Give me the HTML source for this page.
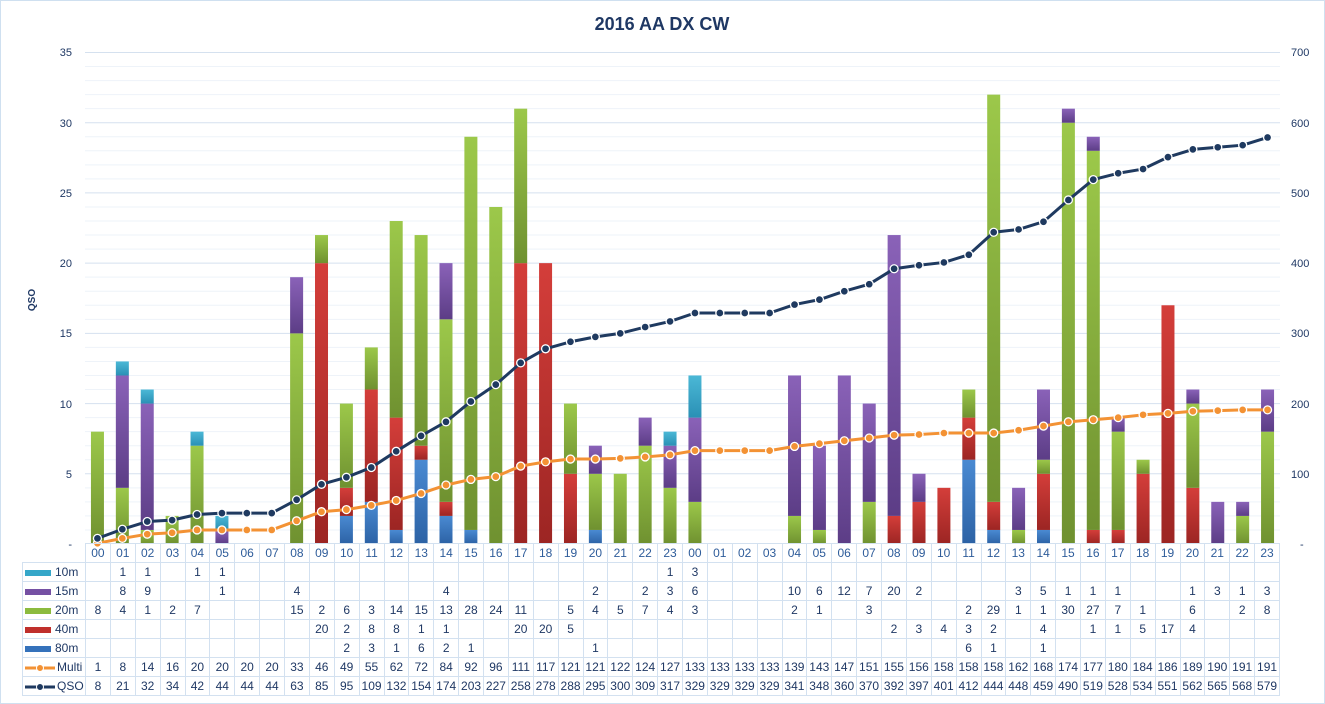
<!DOCTYPE html>
<html><head><meta charset="utf-8"><style>
body{margin:0;background:#fff;}
#wrap{position:relative;width:1325px;height:704px;overflow:hidden;font-family:"Liberation Sans",sans-serif;}
#frame{position:absolute;left:0;top:0;width:1323px;height:702px;border:1px solid #cfe0f0;}
svg{position:absolute;left:0;top:0;}
table{position:absolute;left:22px;top:543px;border-collapse:collapse;table-layout:fixed;width:1258px;font-size:12px;color:#1f3864;}
td{border:1px solid #d3e1f0;height:18px;padding:0;text-align:center;white-space:nowrap;overflow:hidden;}
tr.h td{color:#2e5c9a;height:18px;}
tr.h td.e{border:none;border-right:1px solid #d3e1f0;}
td.l{text-align:left;padding-left:2px;}
.sw{display:inline-block;width:26px;height:6px;vertical-align:middle;margin-right:4px;}
</style></head><body><div id="wrap"><div id="frame"></div>
<svg id="s" width="1325" height="704">
<text x="662" y="30" text-anchor="middle" font-family="Liberation Sans" font-weight="bold" font-size="18" fill="#1f3864">2016 AA DX CW</text>
<text x="35" y="300" text-anchor="middle" font-family="Liberation Sans" font-weight="bold" font-size="10" fill="#1f3864" transform="rotate(-90 35 300)">QSO</text>
<g font-family="Liberation Sans" font-size="11" fill="#1f3864" text-anchor="end">
<text x="72" y="56">35</text><text x="72" y="127">30</text><text x="72" y="197">25</text><text x="72" y="267">20</text><text x="72" y="337">15</text><text x="72" y="408">10</text><text x="72" y="478">5</text><text x="72" y="548">-</text>
</g>
<g font-family="Liberation Sans" font-size="11" fill="#1f3864" text-anchor="start">
<text x="1291" y="56">700</text><text x="1291" y="127">600</text><text x="1291" y="197">500</text><text x="1291" y="267">400</text><text x="1291" y="337">300</text><text x="1291" y="408">200</text><text x="1291" y="478">100</text><text x="1300" y="548">-</text>
</g>
<defs>
<linearGradient id="g10" x1="0" y1="0" x2="0" y2="1"><stop offset="0" stop-color="#4bb8d6"/><stop offset="1" stop-color="#2a90b5"/></linearGradient>
<linearGradient id="g15" x1="0" y1="0" x2="0" y2="1"><stop offset="0" stop-color="#8a62b8"/><stop offset="1" stop-color="#5c3d86"/></linearGradient>
<linearGradient id="g20" x1="0" y1="0" x2="0" y2="1"><stop offset="0" stop-color="#9cc84a"/><stop offset="1" stop-color="#6f9130"/></linearGradient>
<linearGradient id="g40" x1="0" y1="0" x2="0" y2="1"><stop offset="0" stop-color="#d43e3a"/><stop offset="1" stop-color="#9c2523"/></linearGradient>
<linearGradient id="g80" x1="0" y1="0" x2="0" y2="1"><stop offset="0" stop-color="#4a8ad2"/><stop offset="1" stop-color="#2c62a5"/></linearGradient>
</defs>
<g id="grid"></g><g id="bars"></g><g id="lines"></g>
</svg>
<table>
<colgroup><col style="width:63px"><script>for(let i=0;i<48;i++)document.write('<col>');</script></colgroup>
<tr class="h"><td class="e"></td><td>00</td><td>01</td><td>02</td><td>03</td><td>04</td><td>05</td><td>06</td><td>07</td><td>08</td><td>09</td><td>10</td><td>11</td><td>12</td><td>13</td><td>14</td><td>15</td><td>16</td><td>17</td><td>18</td><td>19</td><td>20</td><td>21</td><td>22</td><td>23</td><td>00</td><td>01</td><td>02</td><td>03</td><td>04</td><td>05</td><td>06</td><td>07</td><td>08</td><td>09</td><td>10</td><td>11</td><td>12</td><td>13</td><td>14</td><td>15</td><td>16</td><td>17</td><td>18</td><td>19</td><td>20</td><td>21</td><td>22</td><td>23</td></tr>
<tr><td class="l"><span class="sw" style="background:#35a7c9"></span>10m</td><td></td><td>1</td><td>1</td><td></td><td>1</td><td>1</td><td></td><td></td><td></td><td></td><td></td><td></td><td></td><td></td><td></td><td></td><td></td><td></td><td></td><td></td><td></td><td></td><td></td><td>1</td><td>3</td><td></td><td></td><td></td><td></td><td></td><td></td><td></td><td></td><td></td><td></td><td></td><td></td><td></td><td></td><td></td><td></td><td></td><td></td><td></td><td></td><td></td><td></td><td></td></tr>
<tr><td class="l"><span class="sw" style="background:#7550a3"></span>15m</td><td></td><td>8</td><td>9</td><td></td><td></td><td>1</td><td></td><td></td><td>4</td><td></td><td></td><td></td><td></td><td></td><td>4</td><td></td><td></td><td></td><td></td><td></td><td>2</td><td></td><td>2</td><td>3</td><td>6</td><td></td><td></td><td></td><td>10</td><td>6</td><td>12</td><td>7</td><td>20</td><td>2</td><td></td><td></td><td></td><td>3</td><td>5</td><td>1</td><td>1</td><td>1</td><td></td><td></td><td>1</td><td>3</td><td>1</td><td>3</td></tr>
<tr><td class="l"><span class="sw" style="background:#8cbb3e"></span>20m</td><td>8</td><td>4</td><td>1</td><td>2</td><td>7</td><td></td><td></td><td></td><td>15</td><td>2</td><td>6</td><td>3</td><td>14</td><td>15</td><td>13</td><td>28</td><td>24</td><td>11</td><td></td><td>5</td><td>4</td><td>5</td><td>7</td><td>4</td><td>3</td><td></td><td></td><td></td><td>2</td><td>1</td><td></td><td>3</td><td></td><td></td><td></td><td>2</td><td>29</td><td>1</td><td>1</td><td>30</td><td>27</td><td>7</td><td>1</td><td></td><td>6</td><td></td><td>2</td><td>8</td></tr>
<tr><td class="l"><span class="sw" style="background:#c0302c"></span>40m</td><td></td><td></td><td></td><td></td><td></td><td></td><td></td><td></td><td></td><td>20</td><td>2</td><td>8</td><td>8</td><td>1</td><td>1</td><td></td><td></td><td>20</td><td>20</td><td>5</td><td></td><td></td><td></td><td></td><td></td><td></td><td></td><td></td><td></td><td></td><td></td><td></td><td>2</td><td>3</td><td>4</td><td>3</td><td>2</td><td></td><td>4</td><td></td><td>1</td><td>1</td><td>5</td><td>17</td><td>4</td><td></td><td></td><td></td></tr>
<tr><td class="l"><span class="sw" style="background:#3572bb"></span>80m</td><td></td><td></td><td></td><td></td><td></td><td></td><td></td><td></td><td></td><td></td><td>2</td><td>3</td><td>1</td><td>6</td><td>2</td><td>1</td><td></td><td></td><td></td><td></td><td>1</td><td></td><td></td><td></td><td></td><td></td><td></td><td></td><td></td><td></td><td></td><td></td><td></td><td></td><td></td><td>6</td><td>1</td><td></td><td>1</td><td></td><td></td><td></td><td></td><td></td><td></td><td></td><td></td><td></td></tr>
<tr><td class="l"><svg width="30" height="10" style="position:static;vertical-align:middle;margin-right:2px"><line x1="0" y1="5" x2="30" y2="5" stroke="#f39234" stroke-width="3"/><circle cx="15" cy="5" r="3.5" fill="#f39234" stroke="#fff"/></svg>Multi</td><td>1</td><td>8</td><td>14</td><td>16</td><td>20</td><td>20</td><td>20</td><td>20</td><td>33</td><td>46</td><td>49</td><td>55</td><td>62</td><td>72</td><td>84</td><td>92</td><td>96</td><td>111</td><td>117</td><td>121</td><td>121</td><td>122</td><td>124</td><td>127</td><td>133</td><td>133</td><td>133</td><td>133</td><td>139</td><td>143</td><td>147</td><td>151</td><td>155</td><td>156</td><td>158</td><td>158</td><td>158</td><td>162</td><td>168</td><td>174</td><td>177</td><td>180</td><td>184</td><td>186</td><td>189</td><td>190</td><td>191</td><td>191</td></tr>
<tr><td class="l"><svg width="30" height="10" style="position:static;vertical-align:middle;margin-right:2px"><line x1="0" y1="5" x2="30" y2="5" stroke="#1f3a60" stroke-width="3"/><circle cx="15" cy="5" r="3.5" fill="#1f3a60" stroke="#fff"/></svg>QSO</td><td>8</td><td>21</td><td>32</td><td>34</td><td>42</td><td>44</td><td>44</td><td>44</td><td>63</td><td>85</td><td>95</td><td>109</td><td>132</td><td>154</td><td>174</td><td>203</td><td>227</td><td>258</td><td>278</td><td>288</td><td>295</td><td>300</td><td>309</td><td>317</td><td>329</td><td>329</td><td>329</td><td>329</td><td>341</td><td>348</td><td>360</td><td>370</td><td>392</td><td>397</td><td>401</td><td>412</td><td>444</td><td>448</td><td>459</td><td>490</td><td>519</td><td>528</td><td>534</td><td>551</td><td>562</td><td>565</td><td>568</td><td>579</td></tr>
</table>
</div>
<script>
const NS="http://www.w3.org/2000/svg";
function el(t,a,p){const e=document.createElementNS(NS,t);for(const k in a)e.setAttribute(k,a[k]);p.appendChild(e);return e;}
const L=85,R=1280,Y0=544,U=(544-52.5)/35,W=(R-L)/48;
const grid=document.getElementById('grid');
for(let v=1;v<=35;v++){const y=Y0-v*U;el('line',{x1:L,x2:R,y1:y,y2:y,stroke:v%5?'#eef3f9':'#d5e1ef','stroke-width':1},grid);}
const d={
'80':{10:2,11:3,12:1,13:6,14:2,15:1,20:1,35:6,36:1,38:1},
'40':{9:20,10:2,11:8,12:8,13:1,14:1,17:20,18:20,19:5,32:2,33:3,34:4,35:3,36:2,38:4,40:1,41:1,42:5,43:17,44:4},
'20':{0:8,1:4,2:1,3:2,4:7,8:15,9:2,10:6,11:3,12:14,13:15,14:13,15:28,16:24,17:11,19:5,20:4,21:5,22:7,23:4,24:3,28:2,29:1,31:3,35:2,36:29,37:1,38:1,39:30,40:27,41:7,42:1,44:6,46:2,47:8},
'15':{1:8,2:9,5:1,8:4,14:4,20:2,22:2,23:3,24:6,28:10,29:6,30:12,31:7,32:20,33:2,37:3,38:5,39:1,40:1,41:1,44:1,45:3,46:1,47:3},
'10':{1:1,2:1,4:1,5:1,23:1,24:3}};
const bars=document.getElementById('bars');
for(let i=0;i<48;i++){let acc=0;const cx=L+W*(i+0.5);
 for(const b of ['80','40','20','15','10']){const v=d[b][i]||0;if(!v)continue;
  el('rect',{x:cx-6.5,y:Y0-(acc+v)*U,width:13,height:v*U,fill:'url(#g'+b+')'},bars);acc+=v;}}
const multi=[1,8,14,16,20,20,20,20,33,46,49,55,62,72,84,92,96,111,117,121,121,122,124,127,133,133,133,133,139,143,147,151,155,156,158,158,158,162,168,174,177,180,184,186,189,190,191,191];
const qso=[8,21,32,34,42,44,44,44,63,85,95,109,132,154,174,203,227,258,278,288,295,300,309,317,329,329,329,329,341,348,360,370,392,397,401,412,444,448,459,490,519,528,534,551,562,565,568,579];
const lines=document.getElementById('lines');
function series(a,c){const pts=a.map((v,i)=>[L+W*(i+0.5),Y0-v*(35*U/700)]);
 el('polyline',{points:pts.map(p=>p.join(',')).join(' '),fill:'none',stroke:c,'stroke-width':3,'stroke-linejoin':'round'},lines);
 pts.forEach(p=>el('circle',{cx:p[0],cy:p[1],r:4,fill:c,stroke:'#fff','stroke-width':1.3},lines));}
series(multi,'#f39234');series(qso,'#1f3a60');
</script>
</body></html>
